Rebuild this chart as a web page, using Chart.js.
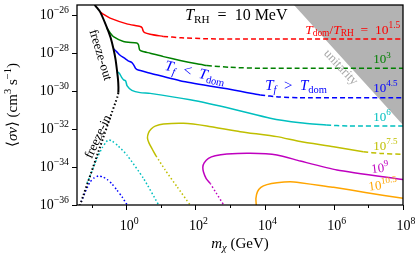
<!DOCTYPE html>
<html>
<head>
<meta charset="utf-8">
<script src="https://cdn.jsdelivr.net/npm/chart.js@4.4.1/dist/chart.umd.min.js"></script>
<style>
html, body { margin: 0; padding: 0; background: #fff; }
#wrap { width: 415px; height: 256px; }
</style>
</head>
<body>
<div id="wrap"><canvas id="chart" width="415" height="256"></canvas></div>
<script>
// every point is [log10 m (GeV), log10 <sigma v> (cm^3 s^-1)]
var freezeOut = [[-0.925,-25.39],[-0.896,-25.52],[-0.752,-25.86],[-0.558,-26.67],[-0.448,-27.22],[-0.367,-27.80],
  [-0.304,-28.38],[-0.263,-28.96],[-0.234,-29.43],[-0.223,-29.80],[-0.225,-30.11]];
var freezeIn = [[-0.225,-30.11],[-0.252,-30.32],[-0.304,-30.59],[-0.405,-31.11],[-1.35,-36.1]];

var redSolid = [[-0.752,-25.86],[-0.636,-26.01],[-0.463,-26.19],[0.02,-26.49],[0.405,-26.63],[0.463,-26.70],
  [0.491,-26.86],[0.535,-26.95],[0.694,-27.03],[1.07,-27.15]];
var redDashed = [[1.07,-27.15],[1.6,-27.22],[2.3,-27.27],[3.2,-27.29],[8,-27.29]];

var greenSolid = [[-0.558,-26.71],[-0.463,-26.96],[-0.367,-27.16],[-0.078,-27.42],[0.309,-27.50],[0.356,-27.59],
  [0.39,-27.85],[0.463,-27.93],[0.694,-28.03],[1.078,-28.21],[1.561,-28.41],[2.044,-28.59],[2.333,-28.68]];
var greenDashed = [[2.333,-28.68],[3.0,-28.77],[3.9,-28.82],[8,-28.82]];

var blueSolid = [[-0.367,-27.80],[-0.269,-27.96],[-0.173,-28.14],[-0.058,-28.28],[0.058,-28.43],[0.159,-28.51],
  [0.217,-28.64],[0.275,-28.83],[0.376,-28.93],[0.694,-29.08],[1.657,-29.52],[3.102,-29.96],[3.874,-30.23]];
var blueDashed = [[3.874,-30.23],[4.45,-30.33],[5.0,-30.37],[8,-30.37]];
var blueDotted = [[-1.30,-35.84],[-1.156,-35.21],[-1.041,-34.79],[-0.925,-34.58],[-0.801,-34.48],[-0.665,-34.53],
  [-0.549,-34.66],[-0.405,-34.90],[-0.269,-35.21],[-0.116,-35.58],[0.029,-36]];

var cyanSolid = [[-0.26,-29.01],[-0.194,-29.09],[-0.13,-29.30],[-0.072,-29.43],[-0.014,-29.48],[0.029,-29.75],
  [0.165,-29.98],[0.405,-30.10],[0.694,-30.14],[1.85,-30.48],[3.102,-30.97],[4.163,-31.44],[5.03,-31.68],[5.78,-31.80]];
var cyanDashed = [[5.78,-31.80],[6.4,-31.85],[8,-31.85]];
var cyanDotted = [[-1.127,-34.84],[-0.997,-34.27],[-0.838,-33.53],[-0.694,-33.00],[-0.578,-32.69],[-0.506,-32.58],
  [-0.405,-32.64],[-0.231,-32.90],[0.02,-33.37],[0.5,-34.60],[0.94,-36]];

var yellowSolid = [[0.867,-33.43],[0.752,-33.06],[0.659,-32.74],[0.616,-32.48],[0.645,-32.22],[0.723,-32.01],
  [0.838,-31.86],[1.078,-31.75],[1.657,-31.71],[2.333,-31.85],[3.296,-32.15],[4.357,-32.41],[5.03,-32.67],
  [5.993,-32.94],[6.852,-33.21]];
var yellowDashed = [[6.852,-33.21],[7.34,-33.29],[8,-33.34]];
var yellowDotted = [[0.867,-33.43],[1.127,-34.16],[1.474,-35.05],[1.85,-36]];

var magentaSolid = [[2.428,-34.86],[2.313,-34.61],[2.235,-34.27],[2.217,-34.0],[2.255,-33.79],[2.379,-33.55],
  [2.573,-33.41],[2.911,-33.32],[3.585,-33.28],[4.357,-33.37],[5.03,-33.69],[6.091,-34.16],[8,-34.66]];
var magentaDotted = [[2.428,-34.86],[2.602,-35.37],[2.819,-36]];

var orangeSolid = [[3.76,-36],[3.75,-35.65],[3.796,-35.30],[3.894,-35.07],[4.068,-34.93],[4.357,-34.83],
  [4.741,-34.78],[5.03,-34.83],[5.609,-34.98],[5.993,-35.07],[6.91,-35.34],[8,-35.65]];

var unitarity = [[4.75,-25.3],[8,-31.8]];

var xMajor = [0, 2, 4, 6, 8];
var xMinor = [-1, 1, 3, 5, 7];
var yMajor = [-26, -28, -30, -32, -34, -36];
var domRatios = ['1.5', '3', '4.5', '6', '7.5', '9', '10.5'];

var FONT = '"Liberation Serif", "DejaVu Serif", serif';
var C = { r: '#ff0000', g: '#008000', b: '#0000ff', c: '#00bfbf', y: '#bfbf00', m: '#bf00bf', o: '#ffa500' };

function pts(a) {
  return a.map(function (p) { return { x: Math.pow(10, p[0]), y: Math.pow(10, p[1]) }; });
}
function curve(a, color, style, width) {
  return {
    data: pts(a), showLine: true, borderColor: color, borderWidth: width || 1.5,
    borderDash: style == 'dash' ? [5, 3] : style == 'dot' ? [1.5, 2.3] : [],
    pointRadius: 0, fill: false, tension: 0.2, borderCapStyle: 'butt', order: 1
  };
}

// little rich text helper: R roman, I italic, sub / sup
function R(t) { return { t: t }; }
function I(t) { return { t: t, i: 1 }; }
function Sub(t, it) { return { t: t, d: -1, i: it }; }
function Sup(t) { return { t: t, d: 1 }; }

function drawRich(ctx, parts, x, y, size, color, align, angle, mid) {
  ctx.save();
  ctx.translate(x, y);
  if (angle) ctx.rotate(angle * Math.PI / 180);
  var w = 0;
  parts.forEach(function (p) {
    ctx.font = (p.i ? 'italic ' : '') + (p.d ? size * 0.7 : size) + 'px ' + FONT;
    p.w = ctx.measureText(p.t).width;
    w += p.w;
  });
  var cx = align == 'right' ? -w : align == 'center' ? -w / 2 : 0;
  var base = mid ? size * 0.32 : 0;
  ctx.fillStyle = color;
  ctx.textAlign = 'left';
  ctx.textBaseline = 'alphabetic';
  parts.forEach(function (p) {
    ctx.font = (p.i ? 'italic ' : '') + (p.d ? size * 0.7 : size) + 'px ' + FONT;
    var dy = p.d > 0 ? -size * 0.42 : p.d < 0 ? size * 0.2 : 0;
    ctx.fillText(p.t, cx, base + dy);
    cx += p.w;
  });
  ctx.restore();
}

function pow10(e) { return [R('10'), Sup(String(e).replace('-', '\u2212'))]; }

var SP = '\u2002';
var labels = [
  { p: [I('T'), Sub('RH'), R(SP + '=' + SP + '10 MeV')], at: [1.706, -26.28], size: 16, color: '#000' },
  { p: [I('T'), Sub('dom'), R('/'), I('T'), Sub('RH'), R(SP + '=' + SP)].concat(pow10(domRatios[0])), at: [7.92, -27.01], size: 13.5, color: C.r, align: 'right' },
  { p: pow10(domRatios[1]), at: [7.141, -28.55], size: 13, color: C.g },
  { p: pow10(domRatios[2]), at: [7.141, -30.05], size: 13, color: C.b },
  { p: pow10(domRatios[3]), at: [7.141, -31.57], size: 13, color: C.c },
  { p: pow10(domRatios[4]), at: [7.141, -33.11], size: 13, color: C.y },
  { p: pow10(domRatios[5]), at: [7.10, -34.33], size: 13, color: C.m, angle: -7 },
  { p: pow10(domRatios[6]), at: [7.02, -35.25], size: 13, color: C.o, angle: -7 },
  { p: [I('T'), Sub('f', 1), R(SP + '<' + SP), I('T'), Sub('dom')], at: [1.966, -29.27], size: 15, color: C.b, align: 'center', angle: 13 },
  { p: [I('T'), Sub('f', 1), R(SP + '>' + SP), I('T'), Sub('dom')], at: [4.019, -29.96], size: 15, color: C.b },
  { p: [R('freeze-out')], at: [-0.729, -28.12], size: 13, color: '#000', align: 'center', angle: 73, mid: 1 },
  { p: [R('freeze-in')], at: [-0.824, -32.41], size: 13, color: '#000', align: 'center', angle: -65, mid: 1 },
  { p: [R('unitarity')], at: [6.216, -28.75], size: 13, color: '#a8a8a8', align: 'center', angle: 47, mid: 1 }
];

var decor = {
  id: 'decor',
  afterDraw: function (chart) {
    var ctx = chart.ctx, a = chart.chartArea;
    var xs = chart.scales.x, ys = chart.scales.y;
    ctx.save();
    ctx.strokeStyle = '#000';
    ctx.lineWidth = 1.3;
    ctx.strokeRect(a.left, a.top, a.right - a.left, a.bottom - a.top);
    ctx.lineWidth = 1;
    ctx.beginPath();
    xMajor.forEach(function (e) {
      var px = Math.round(xs.getPixelForValue(Math.pow(10, e))) + 0.5;
      ctx.moveTo(px, a.bottom); ctx.lineTo(px, a.bottom + 5);
    });
    xMinor.forEach(function (e) {
      var px = Math.round(xs.getPixelForValue(Math.pow(10, e))) + 0.5;
      ctx.moveTo(px, a.bottom); ctx.lineTo(px, a.bottom + 3);
    });
    yMajor.forEach(function (e) {
      var py = Math.round(ys.getPixelForValue(Math.pow(10, e))) + 0.5;
      ctx.moveTo(a.left, py); ctx.lineTo(a.left - 5, py);
    });
    ctx.stroke();

    xMajor.forEach(function (e) {
      drawRich(ctx, pow10(e), xs.getPixelForValue(Math.pow(10, e)) + 3, a.bottom + 25, 14, '#000', 'center');
    });
    yMajor.forEach(function (e) {
      drawRich(ctx, pow10(e), a.left - 8, ys.getPixelForValue(Math.pow(10, e)) + 4, 14, '#000', 'right');
    });
    drawRich(ctx, [I('m'), Sub('\u03c7', 1), R(' (GeV)')], (a.left + a.right) / 2, 248, 15, '#000', 'center');
    drawRich(ctx, [R('\u27e8'), I('\u03c3v'), R('\u27e9 (cm'), Sup('3'), R(' s'), Sup('\u22121'), R(')')],
      17, (a.top + a.bottom) / 2, 15, '#000', 'center', -90);

    labels.forEach(function (l) {
      drawRich(ctx, l.p, xs.getPixelForValue(Math.pow(10, l.at[0])), ys.getPixelForValue(Math.pow(10, l.at[1])),
        l.size, l.color, l.align || 'left', l.angle || 0, l.mid);
    });
    ctx.restore();
  }
};

new Chart(document.getElementById('chart'), {
  type: 'scatter',
  data: {
    datasets: [
      { data: pts(unitarity), showLine: true, borderWidth: 0, borderColor: 'rgba(0,0,0,0)', backgroundColor: '#b3b3b3',
        fill: 'end', pointRadius: 0, order: 5 },
      curve(freezeOut, '#000', 'solid', 2),
      curve(freezeIn, '#000', 'dot', 2),
      curve(redSolid, C.r), curve(redDashed, C.r, 'dash'),
      curve(greenSolid, C.g), curve(greenDashed, C.g, 'dash'),
      curve(blueSolid, C.b), curve(blueDashed, C.b, 'dash'), curve(blueDotted, C.b, 'dot'),
      curve(cyanSolid, C.c), curve(cyanDashed, C.c, 'dash'), curve(cyanDotted, C.c, 'dot'),
      curve(yellowSolid, C.y), curve(yellowDashed, C.y, 'dash'), curve(yellowDotted, C.y, 'dot'),
      curve(magentaSolid, C.m), curve(magentaDotted, C.m, 'dot'),
      curve(orangeSolid, C.o)
    ]
  },
  options: {
    responsive: false,
    animation: false,
    devicePixelRatio: 1,
    layout: { padding: { top: 5, right: 12, left: 0, bottom: 0 } },
    plugins: { legend: { display: false }, tooltip: { enabled: false } },
    scales: {
      x: {
        type: 'logarithmic', min: Math.pow(10, -1.42), max: 1e8, bounds: 'data',
        grid: { display: false }, border: { display: false }, ticks: { display: false },
        afterFit: function (s) { s.height = 51; }
      },
      y: {
        type: 'logarithmic', min: 1e-36, max: Math.pow(10, -25.5), bounds: 'data',
        grid: { display: false }, border: { display: false }, ticks: { display: false },
        afterFit: function (s) { s.width = 77; }
      }
    }
  },
  plugins: [decor]
});
</script>
</body>
</html>
